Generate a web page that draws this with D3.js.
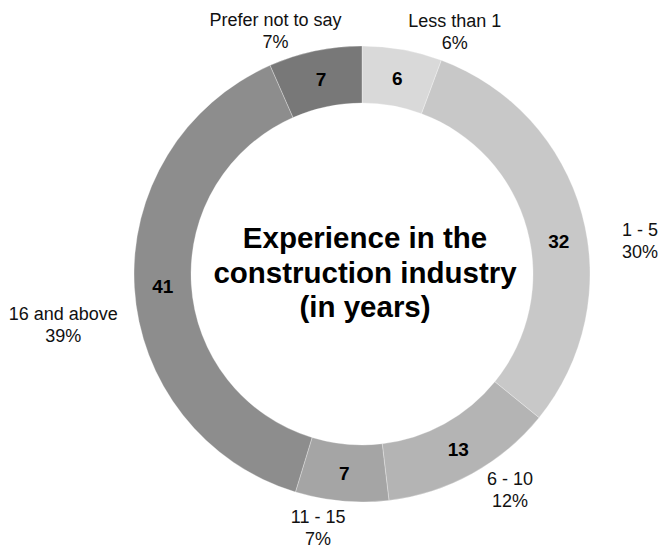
<!DOCTYPE html>
<html>
<head>
<meta charset="utf-8">
<script src="https://cdn.jsdelivr.net/npm/d3@7"></script>
<style>
  html, body { margin: 0; padding: 0; background: #fff; }
  svg { display: block; font-family: "Liberation Sans", Arial, sans-serif; }
</style>
</head>
<body>
<svg id="chart" width="662" height="551"></svg>
<script>
// Years of experience, respondent counts per band
const categories = ["Less than 1", "1 - 5", "6 - 10", "11 - 15", "16 and above", "Prefer not to say"];
const counts = [6, 32, 13, 7, 41, 7];
const shades = ["#d9d9d9", "#c8c8c8", "#b4b4b4", "#a5a5a5", "#8d8d8d", "#787878"];
const titleLines = ["Experience in the", "construction industry", "(in years)"];

// Layout tweaks for the category labels placed outside the ring (degrees / px)
const outerLabelShift = [10.8, 8.5, -5.5, 4.7, -6.3, -7.7];
const outerLabelRadius = [259, 280, 262, 258, 303, 258];
const valueLabelShift = [0, 5.9, 0, 0, 0, 0];

const width = 662, height = 551;
const cx = 362, cy = 274;
const outerR = 228, innerR = 171;

const svg = d3.select("#chart");
const g = svg.append("g").attr("transform", `translate(${cx},${cy})`);

const total = d3.sum(counts);
const pct = d3.format(".0%");

const pie = d3.pie().sort(null).value(d => d).startAngle(0).endAngle(2 * Math.PI);
const arcs = pie(counts);

const arc = d3.arc().innerRadius(innerR).outerRadius(outerR);

g.selectAll("path.slice")
  .data(arcs)
  .join("path")
  .attr("class", "slice")
  .attr("d", arc)
  .attr("fill", (d, i) => shades[i])
  .attr("stroke", "#ffffff")
  .attr("stroke-opacity", 0.6)
  .attr("stroke-width", 0.5);

const toRad = deg => deg * Math.PI / 180;
const polar = (angle, r) => [r * Math.sin(angle), -r * Math.cos(angle)];

// Counts inside the ring
const midR = (innerR + outerR) / 2;
g.selectAll("text.value")
  .data(arcs)
  .join("text")
  .attr("class", "value")
  .each(function (d, i) {
    const a = (d.startAngle + d.endAngle) / 2 + toRad(valueLabelShift[i]);
    const [x, y] = polar(a, midR);
    d3.select(this).attr("x", x).attr("y", y + 7);
  })
  .attr("text-anchor", "middle")
  .attr("font-size", 19)
  .attr("font-weight", "bold")
  .attr("fill", "#000")
  .text(d => d.data);

// Category name and share outside the ring
const outer = g.selectAll("g.outer")
  .data(arcs)
  .join("g")
  .attr("class", "outer")
  .attr("transform", (d, i) => {
    const a = (d.startAngle + d.endAngle) / 2 + toRad(outerLabelShift[i]);
    const [x, y] = polar(a, outerLabelRadius[i]);
    return `translate(${x},${y})`;
  });

outer.append("text")
  .attr("text-anchor", "middle")
  .attr("y", -5)
  .attr("font-size", 18)
  .attr("fill", "#111")
  .text((d, i) => categories[i]);

outer.append("text")
  .attr("text-anchor", "middle")
  .attr("y", 17)
  .attr("font-size", 18)
  .attr("fill", "#111")
  .text(d => pct(d.data / total));

// Title in the hole
g.append("text")
  .attr("text-anchor", "middle")
  .attr("font-size", 29.5)
  .attr("font-weight", "bold")
  .attr("fill", "#000")
  .selectAll("tspan")
  .data(titleLines)
  .join("tspan")
  .attr("x", 3)
  .attr("y", (d, i) => -26 + i * 34.5)
  .text(d => d);
</script>
</body>
</html>
